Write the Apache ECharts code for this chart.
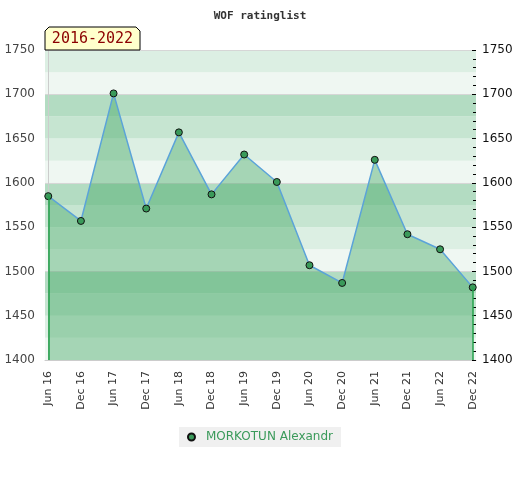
<!DOCTYPE html>
<html>
<head>
<meta charset="utf-8">
<title>WOF ratinglist</title>
<script src="https://cdn.jsdelivr.net/npm/echarts@6/dist/echarts.min.js"></script>
<style>
    html, body { margin: 0; padding: 0; background: #fff; }
    #main { width: 520px; height: 480px; }
</style>
</head>
<body>
<div id="main"></div>
<script>
var categories = ['Jun 16', 'Dec 16', 'Jun 17', 'Dec 17', 'Jun 18', 'Dec 18', 'Jun 19',
    'Dec 19', 'Jun 20', 'Dec 20', 'Jun 21', 'Dec 21', 'Jun 22', 'Dec 22'];
var ratings = [1585, 1557, 1701, 1571, 1657, 1587, 1632, 1601, 1507, 1487, 1626, 1542, 1525, 1482];
var yTicks = [1400, 1450, 1500, 1550, 1600, 1650, 1700, 1750];
var playerName = 'MORKOTUN Alexandr';
var periodLabel = '2016-2022';

window.onload = function () {
    initChart();
};

function initChart() {
    var myChart = echarts.init(document.getElementById('main'));
    var yMin = yTicks[0], yMax = yTicks[yTicks.length - 1];
    var last = ratings.length - 1;
    var points = ratings.map(function (v, i) { return [i, v]; });
    var idx = categories.map(function (c, i) { return i; });
    var plain = function (v) { return String(v); };

    var labelFont = 'DejaVu Sans';
    option = {
        animation: false,
        title: {
            text: 'WOF ratinglist',
            left: 'center',
            top: 6,
            textStyle: { fontFamily: 'DejaVu Sans Mono', fontSize: 11, fontWeight: 'bold', color: '#333' }
        },
        legend: {
            data: [playerName],
            bottom: 33,
            left: 'center',
            icon: 'circle',
            itemWidth: 7,
            itemHeight: 7,
            backgroundColor: '#f0f0f0',
            padding: [4, 8, 4, 8],
            borderRadius: 0,
            textStyle: { color: '#3a9a5a', fontFamily: labelFont, fontSize: 12, padding: [0, 0, 0, 6] }
        },
        grid: { left: 45, right: 44, top: 50, bottom: 120, containLabel: false, outerBoundsMode: 'none' },
        xAxis: {
            type: 'value',
            min: -0.1,
            max: last + 0.1,
            axisLine: { lineStyle: { color: '#ccc' } },
            axisTick: { show: false },
            splitLine: { show: false },
            axisLabel: {
                customValues: idx,
                rotate: 90,
                margin: 11,
                color: '#333',
                fontFamily: labelFont,
                fontSize: 11,
                formatter: function (v) { return categories[Math.round(v)]; }
            }
        },
        yAxis: [
            {
                type: 'value', position: 'left', min: yMin, max: yMax, interval: 50,
                axisLine: { show: true, lineStyle: { color: '#ccc' } },
                axisTick: { show: false },
                splitLine: { show: false },
                axisLabel: { color: '#444', fontFamily: labelFont, fontSize: 12, margin: 10, formatter: plain }
            },
            {
                type: 'value', position: 'right', min: yMin, max: yMax, interval: 50,
                axisLine: { show: false },
                axisTick: { show: true, inside: true, length: 4, lineStyle: { color: '#000' } },
                minorTick: { show: true, splitNumber: 5, length: 3, lineStyle: { color: '#000' } },
                splitLine: { show: false },
                axisLabel: { color: '#111', fontFamily: labelFont, fontSize: 12, margin: 6, formatter: plain }
            },
            {
                // background bands
                type: 'value', position: 'left', min: yMin, max: yMax, interval: 25,
                axisLine: { show: false }, axisTick: { show: false }, axisLabel: { show: false },
                splitLine: { show: false },
                splitArea: {
                    show: true,
                    areaStyle: { color: ['#eff7f2', '#dcefe3', '#c6e5d1', '#b3dcc2'] }
                }
            },
            {
                // grid lines every 100
                type: 'value', position: 'right', min: yMin, max: yMax, interval: 100,
                axisLine: { show: false }, axisTick: { show: false }, axisLabel: { show: false },
                splitLine: { show: true, lineStyle: { color: '#d6d6d6', width: 1 } }
            }
        ],
        series: [
            {
                name: playerName,
                type: 'line',
                data: points,
                symbol: 'circle',
                symbolSize: 7,
                itemStyle: { color: '#3a9a5a', borderColor: '#111', borderWidth: 1 },
                lineStyle: { color: '#5ba3d9', width: 1.5 },
                areaStyle: { color: 'rgba(58,165,92,0.58)', origin: 'start' },
                markLine: {
                    silent: true,
                    symbol: 'none',
                    label: { show: false },
                    lineStyle: { color: '#22a04a', width: 1.5, type: 'solid' },
                    data: [
                        [{ coord: [0, yMin] }, { coord: [0, ratings[0]] }],
                        [{ coord: [last, yMin] }, { coord: [last, ratings[last]] }]
                    ]
                },
                z: 3
            }
        ],
        graphic: [
            {
                type: 'polygon',
                shape: { points: [[45, 50], [45, 31], [49, 27], [136, 27], [140, 31], [140, 50]] },
                style: { fill: '#ffffcc', stroke: '#000', lineWidth: 1 },
                z: 10
            },
            {
                type: 'text',
                x: 92.5,
                y: 39,
                style: {
                    text: periodLabel,
                    fill: '#8b0000',
                    font: '15px "DejaVu Sans Mono"',
                    align: 'center',
                    verticalAlign: 'middle'
                },
                z: 11
            }
        ]
    };
    myChart.setOption(option);
}
</script>
</body>
</html>
